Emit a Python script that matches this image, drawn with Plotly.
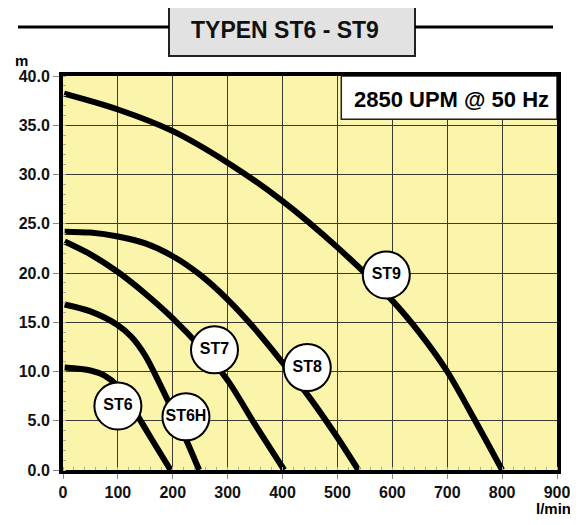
import plotly.graph_objects as go

# ---- data ----
flow_st6 = [3, 50, 75, 100, 125, 150, 175, 196]
head_st6 = [10.4, 10.1, 9.6, 8.5, 6.5, 4.2, 1.9, 0.0]

flow_st6h = [3, 50, 100, 125, 150, 175, 200, 225, 248]
head_st6h = [16.8, 16.1, 14.7, 13.5, 11.6, 8.9, 6.0, 3.0, 0.0]

flow_st7 = [3, 50, 100, 150, 200, 250, 300, 350, 403]
head_st7 = [23.2, 21.9, 20.1, 17.9, 15.4, 12.5, 9.1, 4.6, 0.0]

flow_st8 = [3, 50, 100, 150, 200, 250, 300, 350, 400, 450, 500, 538]
head_st8 = [24.2, 24.1, 23.7, 23.0, 21.7, 19.8, 17.3, 14.3, 10.9, 7.3, 3.3, 0.0]

flow_st9 = [2, 100, 200, 300, 400, 500, 600, 650, 700, 750, 800]
head_st9 = [38.2, 36.6, 34.4, 31.2, 27.3, 22.6, 17.2, 13.9, 10.0, 5.1, 0.0]

label_names = ["ST6", "ST6H", "ST7", "ST8", "ST9"]
label_flow = [100, 224, 276, 445, 589]
label_head = [6.5, 5.4, 12.2, 10.4, 19.8]

x_ticks = [0, 100, 200, 300, 400, 500, 600, 700, 800, 900]
y_ticks = [0, 5, 10, 15, 20, 25, 30, 35, 40]

title_text = "TYPEN ST6 - ST9"
speed_text = "2850 UPM @ 50 Hz"
x_unit = "l/min"
y_unit = "m"

# ---- layout helpers (reference pixel -> paper) ----
# the page body has an 8px margin on the left/top
W, H = 570, 509
ML, MT = 55, 68
PW, PH = 494, 394
MR, MB = W - ML - PW, H - MT - PH
X0_REF, Y0_REF = 63, 470   # plot-area left / bottom in the reference picture


def px(xp):
    return (xp - X0_REF) / PW


def py(yp):
    return (Y0_REF - yp) / PH


FONT = "Liberation Sans, Arial, Helvetica, sans-serif"

fig = go.Figure()

for fx, hy in [(flow_st6, head_st6), (flow_st6h, head_st6h), (flow_st7, head_st7),
               (flow_st8, head_st8), (flow_st9, head_st9)]:
    fig.add_trace(go.Scatter(
        x=fx, y=hy, mode="lines",
        line=dict(color="black", width=6, shape="spline", smoothing=0.8),
        hoverinfo="skip", showlegend=False, cliponaxis=True))

fig.add_trace(go.Scatter(
    x=label_flow, y=label_head, mode="markers+text",
    text=label_names, textposition="middle center",
    textfont=dict(family=FONT, size=16, color="black", weight="bold"),
    marker=dict(size=47, color="white", line=dict(color="black", width=2)),
    hoverinfo="skip", showlegend=False, cliponaxis=False))

shapes = [
    # speed box in the top right of the plot
    dict(type="rect", xref="x", yref="y", x0=507, x1=900, y0=35.6, y1=40,
         fillcolor="white", line=dict(color="#222", width=1.5), layer="above"),
    # title box
    dict(type="rect", xref="paper", yref="paper", x0=px(169), x1=px(415),
         y0=py(56), y1=py(3), fillcolor="#E2E2E2", line=dict(color="#222", width=2)),
    # title side lines
    dict(type="line", xref="paper", yref="paper", x0=px(18), x1=px(169),
         y0=py(27), y1=py(27), line=dict(color="black", width=3)),
    dict(type="line", xref="paper", yref="paper", x0=px(415), x1=px(553),
         y0=py(27), y1=py(27), line=dict(color="black", width=3)),
]

annotations = [
    dict(text=title_text, xref="paper", yref="paper", x=px(285), y=py(30),
         showarrow=False, xanchor="center", yanchor="middle",
         font=dict(family=FONT, size=23, color="#111", weight="bold")),
    dict(text=speed_text, xref="paper", yref="paper", x=px(352), y=py(99),
         showarrow=False, xanchor="left", yanchor="middle",
         font=dict(family=FONT, size=22, color="black", weight="bold")),
    dict(text=x_unit, xref="paper", yref="paper", x=px(573), y=py(508),
         showarrow=False, xanchor="right", yanchor="middle",
         font=dict(family=FONT, size=15, color="black", weight="bold")),
    dict(text=y_unit, xref="paper", yref="paper", x=px(21), y=py(60),
         showarrow=False, xanchor="center", yanchor="middle",
         font=dict(family=FONT, size=15, color="black", weight="bold")),
]

fig.update_layout(
    width=W, height=H,
    margin=dict(l=ML, r=MR, t=MT, b=MB, autoexpand=False),
    paper_bgcolor="white", plot_bgcolor="#FAF5AA",
    shapes=shapes, annotations=annotations,
    showlegend=False,
)

fig.update_xaxes(
    range=[0, 900], tickvals=x_ticks, ticktext=[str(v) for v in x_ticks],
    showgrid=True, gridcolor="#3a3a30", gridwidth=1.2,
    showline=True, linecolor="black", linewidth=4, mirror=True,
    ticks="outside", ticklen=5, tickcolor="#888", tickwidth=1,
    tickfont=dict(family=FONT, size=16, color="#111", weight="bold"),
    zeroline=False, fixedrange=True, automargin=False,
    minor=dict(dtick=20, ticks="inside", ticklen=3, tickcolor="#aaa", showgrid=False),
)
fig.update_yaxes(
    range=[0, 40], tickvals=y_ticks, ticktext=[f"{v:.1f}" for v in y_ticks],
    showgrid=True, gridcolor="#3a3a30", gridwidth=1.2,
    showline=True, linecolor="black", linewidth=4, mirror=True,
    ticks="outside", ticklen=6, tickcolor="#888", tickwidth=1,
    tickfont=dict(family=FONT, size=16, color="#111", weight="bold"),
    zeroline=False, fixedrange=True, automargin=False,
    minor=dict(dtick=1, ticks="inside", ticklen=3, tickcolor="#aaa", showgrid=False),
)

fig.write_html("out.html", config={"displayModeBar": False})
